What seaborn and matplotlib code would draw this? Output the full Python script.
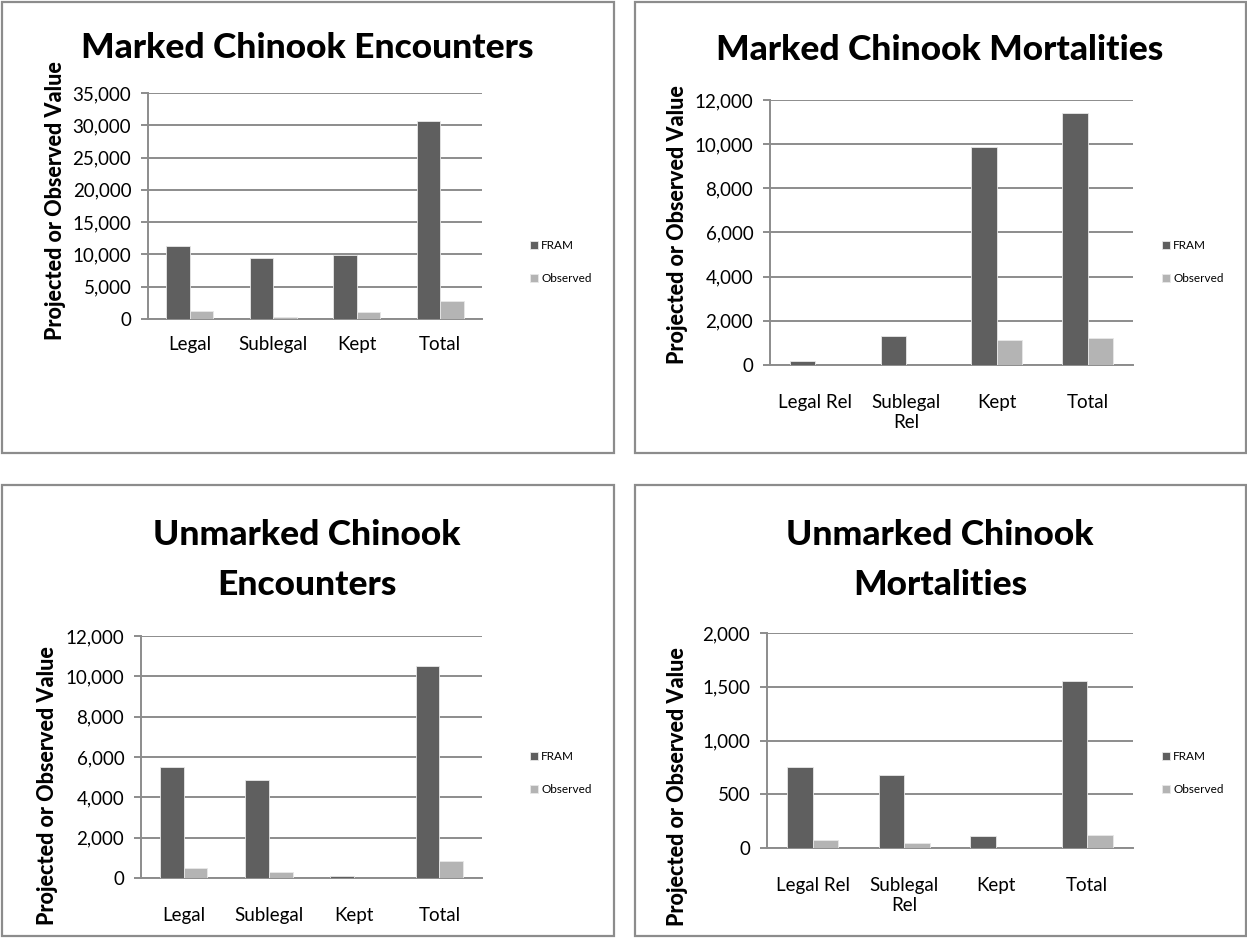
import matplotlib
matplotlib.use("Agg")
import matplotlib.pyplot as plt
from matplotlib.patches import Rectangle
from matplotlib.ticker import FuncFormatter, MultipleLocator
import pandas as pd
import seaborn as sns

# ---- data ----
series_names = ["FRAM", "Observed"]

enc_categories = ["Legal", "Sublegal", "Kept", "Total"]
mort_categories = ["Legal Rel", "Sublegal\nRel", "Kept", "Total"]

marked_enc_fram = [11350, 9450, 9850, 30650]
marked_enc_obs = [1300, 300, 1150, 2800]

marked_mort_fram = [200, 1300, 9880, 11420]
marked_mort_obs = [10, 20, 1140, 1220]

unmarked_enc_fram = [5480, 4880, 90, 10500]
unmarked_enc_obs = [520, 290, 10, 860]

unmarked_mort_fram = [750, 680, 110, 1550]
unmarked_mort_obs = [75, 45, 0, 120]

titles = [
    "Marked Chinook Encounters",
    "Marked Chinook Mortalities",
    "Unmarked Chinook\nEncounters",
    "Unmarked Chinook\nMortalities",
]

sns.set_theme(style="white")
plt.rcParams["font.family"] = ["Lato", "DejaVu Sans"]
plt.rcParams["text.color"] = "black"

W, H = 1247, 938
fig = plt.figure(figsize=(W / 100, H / 100), dpi=100)

fram_color = "#5f5f5f"
obs_color = "#b4b4b4"
grid_color = "#8c8c8c"


def px_axes(left, right, top, bottom):
    return fig.add_axes([left / W, 1 - bottom / H, (right - left) / W, (bottom - top) / H])


def frame(x0, y0, x1, y1):
    fig.patches.append(Rectangle((x0 / W, 1 - y1 / H), (x1 - x0) / W, (y1 - y0) / H,
                                 transform=fig.transFigure, fill=False,
                                 edgecolor=grid_color, linewidth=1.6))


panels = [
    dict(cats=enc_categories, fram=marked_enc_fram, obs=marked_enc_obs,
         box=(148, 482, 93, 319), ymax=35000, step=5000, pad=6,
         frame=(2, 2, 614, 453), title_xy=(307, 48),
         ylabel_xy=(55, 201), legend_xy=(524, 262)),
    dict(cats=mort_categories, fram=marked_mort_fram, obs=marked_mort_obs,
         box=(770, 1133, 100, 365), ymax=12000, step=2000, pad=15,
         frame=(635, 2, 1246, 453), title_xy=(940, 50),
         ylabel_xy=(677, 225), legend_xy=(1156, 262)),
    dict(cats=enc_categories, fram=unmarked_enc_fram, obs=unmarked_enc_obs,
         box=(141, 482, 636, 878), ymax=12000, step=2000, pad=15,
         frame=(2, 485, 614, 936), title_xy=(307, 560),
         ylabel_xy=(48, 786), legend_xy=(524, 773)),
    dict(cats=mort_categories, fram=unmarked_mort_fram, obs=unmarked_mort_obs,
         box=(767, 1133, 633, 848), ymax=2000, step=500, pad=15,
         frame=(635, 485, 1246, 936), title_xy=(940, 560),
         ylabel_xy=(677, 787), legend_xy=(1156, 773)),
]

for p, title in zip(panels, titles):
    frame(*p["frame"])
    left, right, top, bottom = p["box"]
    ax = px_axes(left, right, top, bottom)

    df = pd.DataFrame({
        "Category": p["cats"] * 2,
        "Series": [series_names[0]] * 4 + [series_names[1]] * 4,
        "Value": p["fram"] + p["obs"],
    })
    sns.barplot(data=df, x="Category", y="Value", hue="Series",
                palette=[fram_color, obs_color], width=0.56, gap=0,
                linewidth=0.6, edgecolor="#e8e8e8", ax=ax, zorder=3)

    ax.set_xlim(-0.5, 3.5)
    ax.set_ylim(0, p["ymax"])
    ax.yaxis.set_major_locator(MultipleLocator(p["step"]))
    ax.yaxis.set_major_formatter(FuncFormatter(lambda v, _: f"{int(v):,}"))
    ax.grid(axis="y", color=grid_color, linewidth=1.4, zorder=0)
    ax.set_axisbelow(True)
    for s in ["top", "right"]:
        ax.spines[s].set_visible(False)
    for s in ["left", "bottom"]:
        ax.spines[s].set_color(grid_color)
        ax.spines[s].set_linewidth(1.4)
    ax.tick_params(axis="y", which="major", left=True, length=5, width=1.4,
                   color=grid_color, labelsize=13.5, pad=7, labelcolor="black")
    ax.tick_params(axis="x", bottom=False, labelsize=13.5, pad=p["pad"],
                   labelcolor="black")
    ax.set_xlabel("")
    ax.set_ylabel("")
    handles, labels = ax.get_legend_handles_labels()
    ax.get_legend().remove()

    tx, ty = p["title_xy"]
    fig.text(tx / W, 1 - ty / H, title, ha="center", va="center",
             fontsize=25.5, fontweight="black", linespacing=1.7, color="black")
    lx, ly = p["ylabel_xy"]
    fig.text(lx / W, 1 - ly / H, "Projected or Observed Value", rotation=90,
             ha="center", va="center", fontsize=15.5, fontweight="black",
             color="black")
    gx, gy = p["legend_xy"]
    leg = fig.legend(handles, labels, loc="center left",
                     bbox_to_anchor=(gx / W, 1 - gy / H), frameon=False,
                     fontsize=8.5, handlelength=0.7, handleheight=0.7,
                     handletextpad=0.25, labelspacing=1.9, borderpad=0)
    for t in leg.get_texts():
        t.set_color("black")

fig.savefig("out.png", dpi=100, facecolor="white")
